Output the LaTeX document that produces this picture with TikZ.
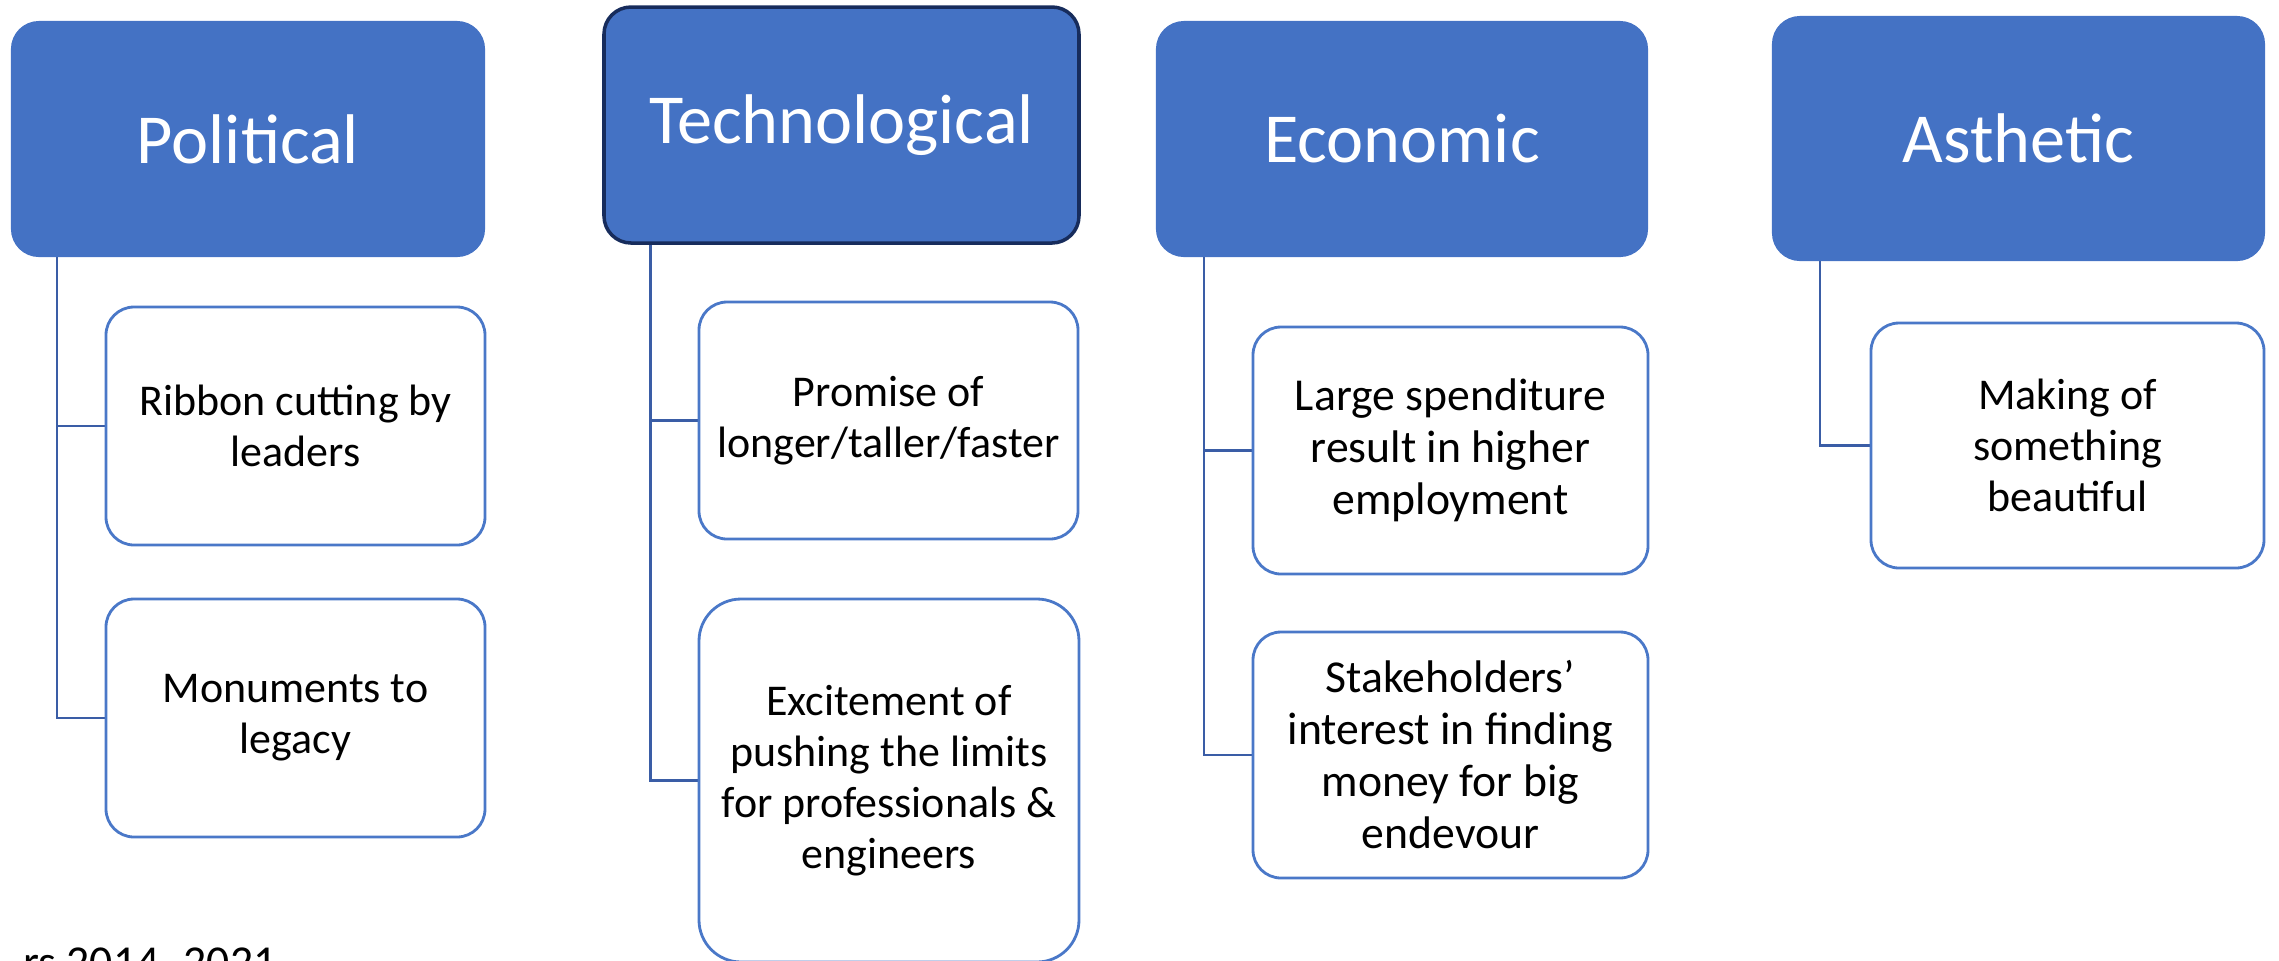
\documentclass[tikz,border=0pt]{standalone}
\usepackage{fontspec}
\setmainfont{Carlito}
\pgfdeclarelayer{nodelayer}
\pgfdeclarelayer{edgelayer}
\pgfsetlayers{edgelayer,nodelayer,main}
\definecolor{officeblue}{HTML}{4472C4}
\definecolor{boxblue}{HTML}{4A78C8}
\definecolor{linkblue}{HTML}{3A5DA6}
\definecolor{navyedge}{HTML}{172C5C}
\tikzstyle{category}=[fill=officeblue, draw=officeblue, shape=rectangle, rounded corners=0.27cm, text=white, font=\fontsize{20}{24}\selectfont, align=center, inner sep=0pt, line width=0.6pt]
\tikzstyle{factor}=[fill=white, draw=boxblue, shape=rectangle, rounded corners=0.28cm, text=black, font=\fontsize{12.5}{14.5}\selectfont, align=center, inner sep=0pt, line width=0.8pt]
\tikzstyle{period}=[fill=none, draw=none, text=black, font=\fontsize{13}{15}\selectfont, inner sep=0pt]
\tikzstyle{tree edge}=[draw=linkblue, line width=0.8pt]

\begin{document}
\begin{tikzpicture}
	\useasboundingbox (0, 0) rectangle (22.79, -9.6);
	\begin{pgfonlayer}{nodelayer}
		\node [style=category, minimum width=4.72cm, minimum height=2.34cm] (0) at (2.48, -1.39) {Political};
		\node [style=factor, minimum width=3.79cm, minimum height=2.38cm] (1) at (2.955, -4.26) {Ribbon cutting by\\leaders};
		\node [style=factor, minimum width=3.79cm, minimum height=2.38cm] (2) at (2.955, -7.18) {Monuments to\\legacy};
		\node [style=category, draw=navyedge, line width=1pt, minimum width=4.75cm, minimum height=2.36cm] (3) at (8.415, -1.25) {Technological};
		\node [style=factor, minimum width=3.79cm, minimum height=2.37cm] (4) at (8.885, -4.205) {Promise of\\longer/taller/faster};
		\node [style=factor, rounded corners=0.42cm, minimum width=3.8cm, minimum height=3.63cm] (5) at (8.89, -7.805) {Excitement of\\pushing the limits\\for professionals \&\\engineers};
		\node [style=category, minimum width=4.9cm, minimum height=2.34cm] (6) at (14.02, -1.39) {Economic};
		\node [style=factor, font=\fontsize{13}{14.8}\selectfont, minimum width=3.95cm, minimum height=2.47cm] (7) at (14.505, -4.505) {Large spenditure\\result in higher\\employment};
		\node [style=factor, font=\fontsize{13}{14.8}\selectfont, minimum width=3.95cm, minimum height=2.46cm] (8) at (14.505, -7.55) {Stakeholders’\\interest in finding\\money for big\\endevour};
		\node [style=category, minimum width=4.91cm, minimum height=2.43cm] (9) at (20.185, -1.385) {Asthetic};
		\node [style=factor, minimum width=3.93cm, minimum height=2.45cm] (10) at (20.675, -4.455) {Making of\\something\\beautiful};
		\node [style=period, anchor=base east] (11) at (2.77, -9.77) {rs 2014- 2021};
	\end{pgfonlayer}
	\begin{pgfonlayer}{edgelayer}
		\draw [style=tree edge] ([xshift=0.46cm]0.south west) |- (1.west);
		\draw [style=tree edge] ([xshift=0.46cm]0.south west) |- (2.west);
		\draw [style=tree edge] ([xshift=0.48cm]3.south west) |- (4.west);
		\draw [style=tree edge] ([xshift=0.48cm]3.south west) |- (5.west);
		\draw [style=tree edge] ([xshift=0.48cm]6.south west) |- (7.west);
		\draw [style=tree edge] ([xshift=0.48cm]6.south west) |- (8.west);
		\draw [style=tree edge] ([xshift=0.48cm]9.south west) |- (10.west);
	\end{pgfonlayer}
\end{tikzpicture}
\end{document}
